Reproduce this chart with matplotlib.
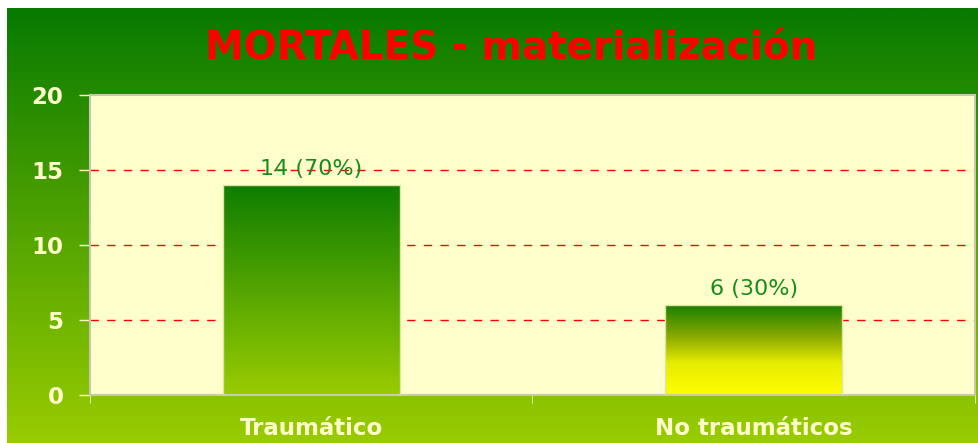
import numpy as np
import matplotlib.pyplot as plt
from matplotlib.colors import LinearSegmentedColormap

# data
categories = ['Traumático', 'No traumáticos']
values = [14, 6]
bar_labels = ['14 (70%)', '6 (30%)']
bar_colors = [
    [(0, '#0E7D00'), (1, '#99CC00')],
    [(0, '#187F00'), (0.35, '#88A800'), (0.65, '#E6EC00'), (1, '#FFFF00')],
]

W, H = 979, 443
fig = plt.figure(figsize=(W / 100, H / 100), dpi=100)
fig.patch.set_facecolor('white')

# green gradient background
bg = fig.add_axes([7 / W, 0, 1 - 7 / W, 1 - 8 / H])
bg.axis('off')
bg_cmap = LinearSegmentedColormap.from_list('bg', ['#077A00', '#99CC00'])
bg.imshow(np.linspace(0, 1, 256).reshape(-1, 1), aspect='auto', cmap=bg_cmap,
          extent=[0, 1, 0, 1])

# plot area
ax = fig.add_axes([90 / W, 48 / H, 885 / W, 300 / H])
ax.set_facecolor('#FFFFCC')

for y in [5, 10, 15]:
    ax.axhline(y, color='red', lw=1, ls=(0, (6, 6)), zorder=1)

x = np.arange(len(categories)) + 0.5
bars = ax.bar(x, values, width=0.4, color='none', edgecolor='#D8E8A0', lw=1, zorder=3)
for b, stops in zip(bars, bar_colors):
    cmap = LinearSegmentedColormap.from_list('b', stops)
    x0, w, h = b.get_x(), b.get_width(), b.get_height()
    im = ax.imshow(np.linspace(0, 1, 256).reshape(-1, 1), aspect='auto', cmap=cmap,
                   extent=[x0, x0 + w, 0, h], zorder=2)
    im.set_clip_path(b)

for xi, v, lab in zip(x, values, bar_labels):
    ax.text(xi, v + 0.4, lab, ha='center', va='bottom', fontsize=16,
            color='#1A8A1A')

ax.set_xlim(0, 2)
ax.set_ylim(0, 20)

tick_col = '#FFFFCC'
ax.set_yticks([0, 5, 10, 15, 20])
ax.tick_params(axis='y', direction='out', length=8, width=1, color=tick_col,
               labelcolor=tick_col, labelsize=16.5, pad=11)
ax.set_xticks(x)
ax.set_xticklabels(categories)
ax.tick_params(axis='x', length=0, labelcolor=tick_col, labelsize=16.5, pad=16)
ax.set_xticks([0, 1, 2], minor=True)
ax.tick_params(axis='x', which='minor', direction='out', length=6, color=tick_col)
for lab in ax.get_xticklabels() + ax.get_yticklabels():
    lab.set_fontweight('bold')

for s in ax.spines.values():
    s.set_color('#C8C8B0')
    s.set_linewidth(1.5)

fig.text(511 / W, 1 - 48 / H, 'MORTALES - materialización', ha='center', va='center',
         fontsize=28, fontweight='bold', color='red')

fig.savefig('out.png', dpi=100)
